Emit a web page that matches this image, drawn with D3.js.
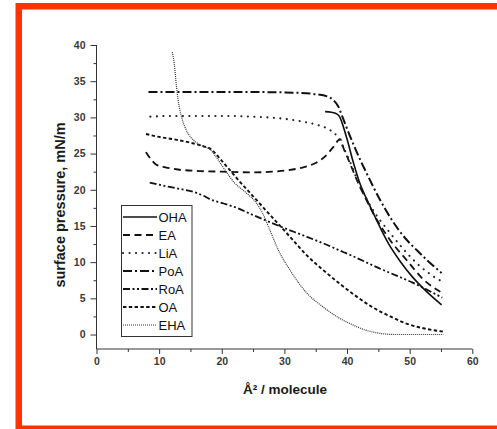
<!DOCTYPE html>
<html>
<head>
<meta charset="utf-8">
<script src="https://cdn.jsdelivr.net/npm/d3@7"></script>
<style>
  html, body { margin: 0; padding: 0; background: #fff; }
  svg { display: block; }
</style>
</head>
<body>
<svg id="chart" width="497" height="429"></svg>
<script>
// Surface pressure isotherms, [area per molecule (Å²), pressure (mN/m)]
const OHA = [[36.5,30.8],[37.5,30.7],[38.3,30.5],[38.8,30.1],[39.3,29.0],[40.0,27.0],[41.0,23.8],[42.0,21.0],[43.2,18.6],[44.5,16.2],[46.6,12.6],[48.5,10.1],[50.4,8.0],[52.5,6.1],[55.1,4.1]];
const EA  = [[7.9,25.2],[8.7,24.2],[9.5,23.5],[11,23.1],[13,22.8],[16,22.6],[20,22.5],[25,22.4],[28,22.5],[30.5,22.7],[33,23.1],[35,23.7],[36.5,24.6],[37.8,25.9],[38.9,27.0],[39.5,25.6],[40.2,24.2],[41.8,20.9],[43.2,18.4],[45,15.5],[47,12.9],[49.5,10.3],[52.2,7.6],[54.9,5.9]];
const LiA = [[8.6,30.1],[12,30.2],[16,30.2],[20,30.2],[25,30.1],[30,29.8],[33,29.4],[35.5,28.9],[37.2,28.3],[38.5,27.3],[39.5,25.7],[40.5,23.8],[42,20.6],[44,17.4],[46.9,14.0],[49,11.8],[51.7,9.4],[53.5,8.2],[55.4,7.2]];
const PoA = [[8.3,33.5],[15,33.5],[25,33.5],[32,33.4],[35,33.2],[36.8,32.9],[37.8,32.4],[38.6,31.5],[39.3,30.0],[40.2,28.0],[41.5,25.3],[43.4,21.8],[45.4,18.4],[47.4,15.5],[49.3,13.3],[51.2,11.6],[53,10.1],[55.1,8.5]];
const RoA = [[8.5,21.0],[10,20.7],[12.8,20.2],[15.5,19.7],[17,19.2],[18.1,18.7],[20.3,18.1],[22.4,17.5],[25,16.5],[27.2,15.7],[30,14.7],[33,13.7],[36.2,12.6],[38.6,11.7],[41,10.8],[45,9.2],[48,8.1],[50.4,7.2],[52.5,6.3],[55.2,5.1]];
const OA  = [[7.9,27.7],[10,27.3],[12.8,26.9],[15,26.5],[17.1,26.0],[18.3,25.6],[19.5,24.5],[21,23.0],[23,21.0],[25,19.1],[27,17.2],[29,15.3],[30.9,13.5],[33.5,11.0],[36.2,8.9],[39,6.9],[41.6,5.2],[44,3.8],[46.9,2.5],[49.5,1.5],[52.2,0.86],[55.4,0.4]];
const EHA = [[12.1,39.0],[12.4,37.5],[12.8,34.0],[13.2,31.5],[13.6,30.0],[14.3,28.3],[15,27.3],[16,26.5],[17,26.0],[18.1,25.6],[19.2,24.4],[20.3,23.0],[22,21.0],[24,19.5],[25.5,18.2],[26.5,16.8],[27.5,14.8],[29.3,11.2],[30.9,8.9],[33.6,5.7],[36.2,3.8],[38.5,2.4],[40.5,1.5],[43,0.6],[45.8,0.1],[48,0],[52,0],[55.4,0]];

const seriesNames = ["OHA", "EA", "LiA", "PoA", "RoA", "OA", "EHA"];
const seriesData  = [OHA, EA, LiA, PoA, RoA, OA, EHA];

const xTicks = [0, 10, 20, 30, 40, 50, 60];
const xMinorTicks = [5, 15, 25, 35, 45, 55];
const yTicks = [0, 5, 10, 15, 20, 25, 30, 35, 40];
const yMinorTicks = [2.5, 7.5, 12.5, 17.5, 22.5, 27.5, 32.5, 37.5];

const xTitle = "Å² / molecule";
const yTitle = "surface pressure, mN/m";

// line appearance per series
const styles = {
  OHA: { dash: null,                width: 1.6, color: "#111", cap: "butt" },
  EA:  { dash: "7,4.5",             width: 1.8, color: "#111", cap: "butt" },
  LiA: { dash: "0.1,6.4",           width: 2.1, color: "#222", cap: "round" },
  PoA: { dash: "9,3,2,3",           width: 2.0, color: "#111", cap: "butt" },
  RoA: { dash: "7,2.5,2,2.5,2,2.5", width: 1.8, color: "#111", cap: "butt" },
  OA:  { dash: "3.4,2.4",           width: 1.9, color: "#111", cap: "butt" },
  EHA: { dash: "1,1",               width: 1.2, color: "#333", cap: "butt" }
};

const svg = d3.select("#chart");

// orange frame
svg.append("rect")
  .attr("x", 18.75).attr("y", 6.25)
  .attr("width", 520).attr("height", 422.5)
  .attr("fill", "none")
  .attr("stroke", "#ff3300")
  .attr("stroke-width", 6.5);

const x = d3.scaleLinear().domain([0, 60]).range([96.5, 472.3]);
const y = d3.scaleLinear().domain([-2, 40]).range([349, 45]);

const axisColor = "#333";

// bottom axis
const gx = svg.append("g").attr("transform", `translate(0,${y(-2)})`);
gx.call(d3.axisBottom(x).tickValues(xTicks).tickSize(5).tickPadding(4).tickFormat(d3.format("d")));
gx.append("g").call(d3.axisBottom(x).tickValues(xMinorTicks).tickSize(3).tickFormat(""))
  .select(".domain").remove();

// left axis
const gy = svg.append("g").attr("transform", `translate(${x(0)},0)`);
gy.call(d3.axisLeft(y).tickValues(yTicks).tickSize(6).tickPadding(5).tickFormat(d3.format("d")));
gy.append("g").call(d3.axisLeft(y).tickValues(yMinorTicks).tickSize(3).tickFormat(""))
  .select(".domain").remove();

gx.select(".domain").attr("d", `M${x(0)},0H${x(60)}`);
gy.select(".domain").attr("d", `M0,${y(-2)}V${y(40)}`);

svg.selectAll(".tick line, .domain").attr("stroke", axisColor).attr("stroke-width", 1);
svg.selectAll(".tick text")
  .attr("fill", "#3a3a3a")
  .attr("font-family", "Arial, 'Liberation Sans', sans-serif")
  .attr("font-weight", "bold")
  .attr("font-size", 10.5);

// axis titles
svg.append("text")
  .attr("x", 285).attr("y", 394)
  .attr("text-anchor", "middle")
  .attr("font-family", "Arial, 'Liberation Sans', sans-serif")
  .attr("font-weight", "bold")
  .attr("font-size", 13.5)
  .attr("fill", "#1a1a1a")
  .text(xTitle);

svg.append("text")
  .attr("transform", "translate(65,205) rotate(-90)")
  .attr("text-anchor", "middle")
  .attr("font-family", "Arial, 'Liberation Sans', sans-serif")
  .attr("font-weight", "bold")
  .attr("font-size", 14.5)
  .attr("fill", "#1a1a1a")
  .text(yTitle);

// curves
const line = d3.line()
  .x(d => x(d[0]))
  .y(d => y(d[1]))
  .curve(d3.curveMonotoneX);

seriesNames.forEach((name, i) => {
  const s = styles[name];
  svg.append("path")
    .datum(seriesData[i])
    .attr("d", line)
    .attr("fill", "none")
    .attr("stroke", s.color)
    .attr("stroke-width", s.width)
    .attr("stroke-dasharray", s.dash)
    .attr("stroke-linecap", s.cap);
});

// legend
const legend = svg.append("g");
legend.append("rect")
  .attr("x", 121.5).attr("y", 205.5)
  .attr("width", 70.5).attr("height", 131)
  .attr("fill", "#fff")
  .attr("stroke", "#333")
  .attr("stroke-width", 1);

seriesNames.forEach((name, i) => {
  const s = styles[name];
  const ly = 217 + i * 18;
  legend.append("line")
    .attr("x1", 123).attr("x2", 157)
    .attr("y1", ly).attr("y2", ly)
    .attr("stroke", s.color)
    .attr("stroke-width", s.width)
    .attr("stroke-dasharray", s.dash)
    .attr("stroke-linecap", s.cap);
  legend.append("text")
    .attr("x", 158.5).attr("y", ly)
    .attr("dy", "0.36em")
    .attr("font-family", "Arial, 'Liberation Sans', sans-serif")
    .attr("font-size", 13)
    .attr("fill", "#111")
    .text(name);
});
</script>
</body>
</html>
